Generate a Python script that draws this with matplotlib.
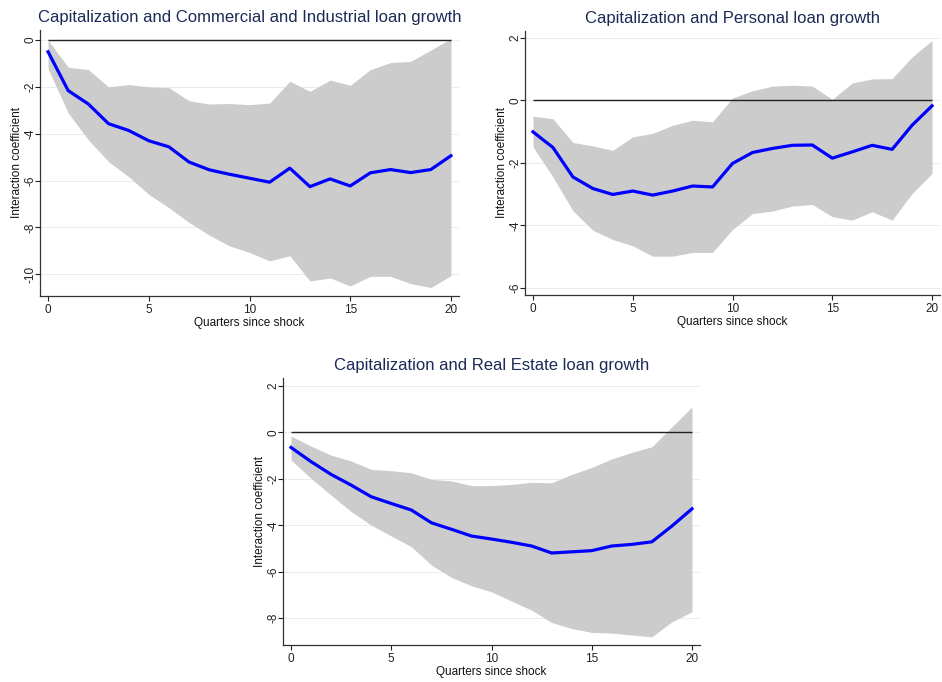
import matplotlib
matplotlib.use("Agg")
import matplotlib.pyplot as plt
import numpy as np

plt.rcParams['font.family'] = ['Liberation Sans', 'DejaVu Sans']
plt.rcParams['axes.unicode_minus'] = False

quarters = list(range(21))

ci_title = "Capitalization and Commercial and Industrial loan growth"
ci_point = [-0.5, -2.16, -2.73, -3.57, -3.86, -4.3, -4.56, -5.21, -5.54, -5.73, -5.9,
            -6.07, -5.47, -6.26, -5.93, -6.23, -5.67, -5.53, -5.66, -5.53, -4.94]
ci_upper = [0.0, -1.16, -1.26, -2.0, -1.9, -2.0, -2.03, -2.59, -2.73, -2.71, -2.76,
            -2.69, -1.76, -2.19, -1.71, -1.93, -1.26, -0.96, -0.91, -0.43, 0.06]
ci_lower = [-1.23, -3.11, -4.26, -5.19, -5.83, -6.59, -7.16, -7.79, -8.33, -8.79, -9.07,
            -9.43, -9.21, -10.29, -10.16, -10.5, -10.09, -10.09, -10.4, -10.57, -10.06]
ci_yticks = [0, -2, -4, -6, -8, -10]

pl_title = "Capitalization and Personal loan growth"
pl_point = [-1.01, -1.51, -2.45, -2.82, -3.01, -2.9, -3.03, -2.9, -2.74, -2.77, -2.02,
            -1.67, -1.54, -1.44, -1.43, -1.85, -1.65, -1.44, -1.57, -0.8, -0.18]
pl_upper = [-0.51, -0.59, -1.35, -1.46, -1.6, -1.17, -1.06, -0.8, -0.64, -0.69, 0.07,
            0.3, 0.45, 0.48, 0.45, 0.03, 0.55, 0.68, 0.69, 1.38, 1.91]
pl_lower = [-1.49, -2.45, -3.53, -4.15, -4.45, -4.65, -4.98, -4.98, -4.86, -4.86, -4.13,
            -3.62, -3.54, -3.38, -3.33, -3.72, -3.83, -3.56, -3.83, -2.98, -2.34]
pl_yticks = [2, 0, -2, -4, -6]

re_title = "Capitalization and Real Estate loan growth"
re_point = [-0.65, -1.26, -1.81, -2.27, -2.77, -3.06, -3.34, -3.89, -4.17, -4.46, -4.59,
            -4.73, -4.89, -5.19, -5.14, -5.09, -4.89, -4.82, -4.71, -4.03, -3.29]
re_upper = [-0.16, -0.59, -0.98, -1.23, -1.59, -1.65, -1.74, -2.02, -2.09, -2.29, -2.29,
            -2.24, -2.15, -2.17, -1.81, -1.51, -1.14, -0.86, -0.62, 0.24, 1.1]
re_lower = [-1.19, -1.98, -2.7, -3.41, -3.99, -4.46, -4.92, -5.71, -6.24, -6.6, -6.86,
            -7.26, -7.65, -8.18, -8.44, -8.61, -8.64, -8.72, -8.8, -8.15, -7.72]
re_yticks = [2, 0, -2, -4, -6, -8]

xticks = [0, 5, 10, 15, 20]
xlabel = "Quarters since shock"
ylabel = "Interaction coefficient"

fig = plt.figure(figsize=(9.42, 6.82), dpi=100)
W, H = 942, 682

def make_axes(l, t, r, b):
    return fig.add_axes([l / W, 1 - b / H, (r - l) / W, (b - t) / H])

panels = [
    (make_axes(40, 30, 459, 296), ci_title, ci_point, ci_upper, ci_lower, ci_yticks, (-10.93, 0.43)),
    (make_axes(525, 31, 940, 295), pl_title, pl_point, pl_upper, pl_lower, pl_yticks, (-6.22, 2.21)),
    (make_axes(283, 378, 700, 645), re_title, re_point, re_upper, re_lower, re_yticks, (-9.15, 2.34)),
]

for ax, title, pt, up, lo, yt, yl in panels:
    ax.fill_between(quarters, lo, up, color='#cccccc', linewidth=0, zorder=1)
    ax.hlines(0, quarters[0], quarters[-1], color='#222222', linewidth=1.0, zorder=2)
    ax.plot(quarters, pt, color='#0000ff', linewidth=2.3, zorder=3)
    ax.set_xlim(-0.4, 20.4)
    ax.set_ylim(*yl)
    ax.set_xticks(xticks)
    ax.set_yticks(yt)
    ax.set_yticklabels([str(v) for v in yt], rotation=90, va='center')
    ax.grid(axis='y', color='#e6eef0', linewidth=0.8, zorder=0)
    ax.set_axisbelow(True)
    for s in ['top', 'right']:
        ax.spines[s].set_visible(False)
    for s in ['left', 'bottom']:
        ax.spines[s].set_color('#333333')
        ax.spines[s].set_linewidth(0.9)
    ax.tick_params(direction='out', length=3.5, width=0.8, labelsize=8.5, colors='#222222', pad=2)
    ax.tick_params(axis='y', pad=-1)
    ax.set_xlabel(xlabel, fontsize=8.5, labelpad=1, color='#111111')
    ax.set_ylabel(ylabel, fontsize=8.5, labelpad=1, color='#111111')
    ax.set_title(title, fontsize=12, color='#1c2a55', pad=6)

fig.savefig("out.png", dpi=100, facecolor='white')
